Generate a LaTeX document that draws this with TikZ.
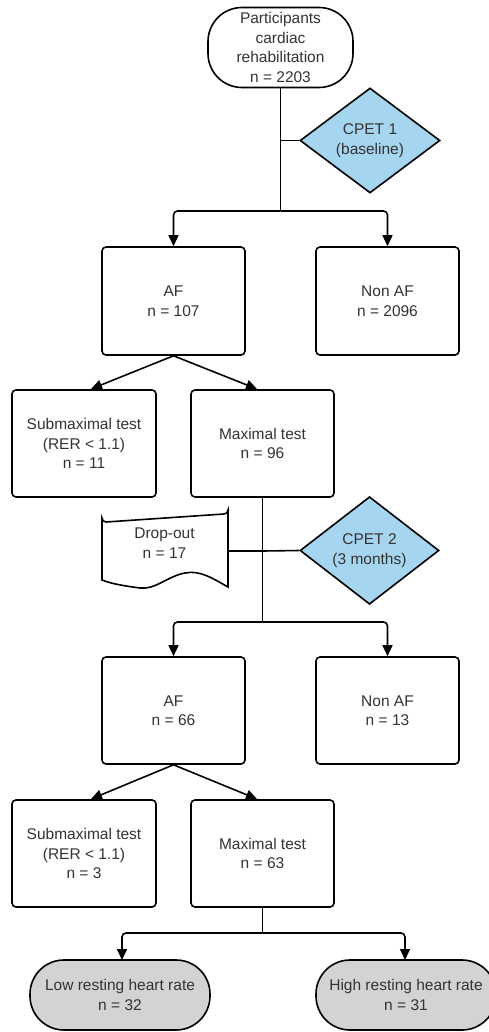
\documentclass[tikz,border=0pt]{standalone}
\usepackage{fontspec}
\setmainfont{Liberation Sans}
\usetikzlibrary{shapes.geometric,arrows.meta}
\definecolor{txt}{HTML}{333333}
\definecolor{cpetblue}{HTML}{A6D5F0}
\definecolor{endgray}{HTML}{D3D3D3}
\tikzset{
  base/.style={draw=black, line width=1.6pt, text=txt, align=center,
    font=\fontsize{15.5}{19.5}\selectfont, inner sep=0pt},
  box/.style={base, rectangle, rounded corners=4pt, minimum width=143pt, minimum height=107pt},
  term/.style={base, rectangle, rounded corners=34pt},
  cpet/.style={base, diamond, fill=cpetblue, minimum width=140pt, minimum height=105pt},
  conn/.style={line width=1.6pt, draw=black},
  arr/.style={conn, -{Triangle[length=11pt,width=10pt]}, rounded corners=4pt},
  lbl/.style={text=txt, align=center, font=\fontsize{15.5}{19.5}\selectfont, inner sep=0pt}
}
\begin{document}
\begin{tikzpicture}[x=1pt,y=-1pt]
\useasboundingbox (0,0) rectangle (488,1032);
\fill[white] (0,0) rectangle (488,1032);
% nodes
\node[term, minimum width=145pt, minimum height=80pt] (top) at (280.5,47.5) {Participants\\cardiac\\rehabilitation\\n = 2203};
\node[cpet] (cpet1) at (370,140.5) {CPET 1\\(baseline)};
\node[box, minimum height=108pt] (af1) at (173.5,301) {AF\\n = 107};
\node[box, minimum height=108pt] (nonaf1) at (387.5,301) {Non AF\\n = 2096};
\node[box, minimum width=144pt] (sub1) at (84,443.5) {Submaximal test\\(RER < 1.1)\\n = 11};
\node[box] (max1) at (262.5,443.5) {Maximal test\\n = 96};
% document shape
\draw[conn, fill=white] (102,580) -- (102,518) arc[start angle=180, end angle=90, radius=4] -- (224,514) arc[start angle=90, end angle=0, radius=4] -- (228,587)
  .. controls (212,578) and (200,570) .. (185,573)
  .. controls (168,576) and (155,590) .. (140,588)
  .. controls (125,586) and (112,584) .. (102,580) -- cycle;
\node[lbl] (drop) at (164.5,543) {Drop-out\\n = 17};
\coordinate (dropR) at (228,551);
\node[cpet, minimum width=139pt, minimum height=104pt] (cpet2) at (369.5,550.5) {CPET 2\\(3 months)};
\node[box] (af2) at (173.5,710.5) {AF\\n = 66};
\node[box] (nonaf2) at (387.5,710.5) {Non AF\\n = 13};
\node[box, minimum width=144pt] (sub2) at (84,853.5) {Submaximal test\\(RER < 1.1)\\n = 3};
\node[box] (max2) at (262.5,853.5) {Maximal test\\n = 63};
\node[term, fill=endgray, minimum width=180pt, minimum height=70pt] (low) at (120,995) {Low resting heart rate\\n = 32};
\node[term, fill=endgray, minimum width=180pt, minimum height=70pt] (high) at (406,995) {High resting heart rate\\n = 31};
% junction coordinates
\coordinate (j1) at (280.5,211);
\coordinate (c1) at (280.5,140.5);
\coordinate (j2) at (262.5,622);
\coordinate (c2) at (262.5,551);
\coordinate (j3) at (262.5,933);
\coordinate (s1) at (91,389);
\coordinate (m1) at (257,389);
\coordinate (s2) at (91,799);
\coordinate (m2) at (257,799);
\coordinate (lowT) at (122,960);
\coordinate (highT) at (405,960);
% connectors
\draw[conn] (top.south) -- (j1);
\draw[conn] (cpet1.west) -- (c1);
\draw[arr] (j1) -| (af1.north);
\draw[arr] (j1) -| (nonaf1.north);
\draw[arr, rounded corners=0pt] (af1.south) -- (s1);
\draw[arr, rounded corners=0pt] (af1.south) -- (m1);
\draw[conn] (max1.south) -- (j2);
\draw[conn] (dropR) -- (c2);
\draw[conn] (cpet2.west) -- (c2);
\draw[arr] (j2) -| (af2.north);
\draw[arr] (j2) -| (nonaf2.north);
\draw[arr, rounded corners=0pt] (af2.south) -- (s2);
\draw[arr, rounded corners=0pt] (af2.south) -- (m2);
\draw[conn] (max2.south) -- (j3);
\draw[arr] (j3) -| (lowT);
\draw[arr] (j3) -| (highT);
\end{tikzpicture}
\end{document}
